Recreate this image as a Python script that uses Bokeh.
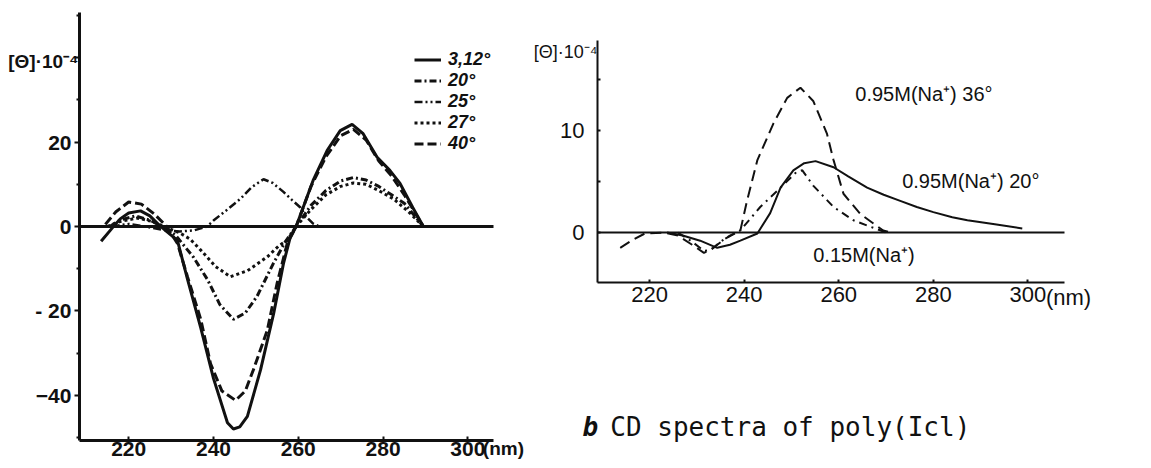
from bokeh.plotting import figure
from bokeh.models import FixedTicker, Label, Legend, LegendItem, LinearAxis
from bokeh.layouts import row
from bokeh.embed import file_html
from bokeh.resources import INLINE

# ---- panel a: temperature series, [theta]*10^-4 vs wavelength (nm) ----
wl_312 = [213.5, 216, 218, 220, 222.8, 225, 227, 229, 231.5, 233.9, 237, 240, 243.3, 244.7,
          246.2, 248, 251.1, 254.2, 256.5, 258.1, 259.5, 263.5, 266.8, 269.9, 272.7, 275.3,
          278.6, 281.6, 284, 287, 289.5]
cd_312 = [-3.5, -0.5, 1.8, 3.2, 3.7, 2.5, 0.5, -1.2, -3.3, -12.6, -24, -36, -46.5, -48,
          -47.5, -45, -34, -20.6, -8.8, -2.6, 0, 10.9, 18, 22.7, 24.2, 22, 16.4, 13.3, 10.2, 4.5, 0]

wl_20 = [215.5, 218, 221.5, 225, 228, 231, 235.3, 238.6, 241.5, 244.7, 247.5, 250.3, 254.1,
         257, 259.5, 263, 266.5, 270, 273, 276, 279, 282, 285, 289.5]
cd_20 = [0, 1.5, 2.5, 1.5, 0, -2, -7.3, -12.6, -18.5, -22, -20.5, -16.5, -8.8,
         -3.5, 0, 5, 8.5, 10.8, 11.6, 11, 9.5, 7.5, 5.5, 0]

wl_25 = [216, 220, 224, 228, 232, 235.5, 238.5, 240, 243, 246.4, 249, 251.8, 254, 256.5,
         258.5, 260.5, 262, 263.5, 265]
cd_25 = [0, 0.6, 0, -0.8, -1.2, -0.9, 0, 1.4, 3.8, 6.6, 9.3, 11.2, 10.3, 8.2,
         6.3, 4.5, 2.2, 0.7, 0]

wl_27 = [215, 218, 222, 225.5, 229, 232, 234.5, 237, 240.5, 244, 248, 252.7, 255.5, 257.4,
         259.5, 263, 266.5, 270, 273, 276, 279, 282.5, 286, 289.5]
cd_27 = [0, 1.2, 2, 1.2, -0.3, -1.5, -3, -5.6, -9.5, -11.9, -10.5, -7.2, -4.5, -3.3,
         0, 4, 7.5, 9.5, 10.3, 10, 8.5, 6.5, 3.5, 0]

wl_40 = [214.5, 217, 220, 223, 226, 229, 231.5, 233.9, 237, 239.3, 242, 245.2, 247.5, 249.4,
         252.7, 255, 257.4, 259.5, 263, 266.5, 270, 273, 276, 279, 282, 285, 289.5]
cd_40 = [0.5, 3.5, 5.8, 5.3, 3, 0, -4, -12, -22, -32.5, -39, -41.2, -39, -34,
         -24.6, -13.5, -4, 0, 9.5, 16.5, 21.5, 23, 20.5, 15.5, 12, 7.5, 0]

temp_labels = ["3,12°", "20°", "25°", "27°", "40°"]
a_xticks = [220, 240, 260, 280, 300]
a_yticks = [-40, -20, 0, 20, 40]
a_xlim = (208.4, 306)
a_ylim = (-50.7, 50.7)

# ---- panel b: poly(Ic) at two salt concentrations ----
wl_b36 = [213.8, 216.5, 219, 223, 226, 229, 231.5, 233.5, 236, 239.2, 240.6, 242.8, 246.2,
          249.1, 251.9, 254.6, 257.5, 258.9, 261, 264.6, 269.4, 271]
cd_b36 = [-1.5, -0.7, -0.1, 0, -0.3, -1.2, -2, -1.5, -0.6, 0.2, 3.1, 7.1, 10.7,
          13.2, 14.2, 12.9, 9.7, 7.1, 3.8, 1.8, 0.2, 0]

wl_b20 = [223.7, 227, 230.7, 234.3, 237, 239.2, 242.8, 245.5, 247.7, 250.4, 252.7, 255.1,
          258.9, 262, 266, 269.5, 273, 276.5, 280, 284, 287.2, 293, 298.8]
cd_b20 = [0, -0.3, -0.8, -1.5, -1.2, -0.8, -0.1, 1.9, 4.4, 6.1, 6.8, 7.0,
          6.4, 5.5, 4.4, 3.7, 3.1, 2.5, 2, 1.5, 1.2, 0.8, 0.4]

wl_b15 = [226, 229, 231.5, 233, 235, 237, 239.2, 243.4, 247.7, 251, 252.3, 254.6, 258.9,
          263.1, 266.5, 270]
cd_b15 = [0, -0.9, -1.8, -1.7, -0.9, -0.3, 0.2, 2.5, 4.4, 5.9, 6.1, 4.6, 2.5,
          1.2, 0.6, 0]

b_xticks = [220, 240, 260, 280, 300]
b_yticks = [0, 5, 10, 15]
b_xlim = (209, 307.8)
b_ylim = (-4.9, 18.8)

INK = "#111111"


def base_fig(**kw):
    # frame fills the whole canvas; axes are pinned inside it with fixed_location
    p = figure(output_backend="svg", toolbar_location=None, min_border=0,
               min_border_left=0, min_border_right=0, min_border_top=0, min_border_bottom=0, **kw)
    p.grid.visible = False
    p.outline_line_color = None
    p.background_fill_color = "white"
    p.border_fill_color = "white"
    return p


def zero_line(p, xlim, width):
    ax = LinearAxis(fixed_location=0, bounds=xlim, ticker=FixedTicker(ticks=[], minor_ticks=[]),
                    axis_line_width=width, axis_line_color=INK,
                    major_tick_line_color=None, minor_tick_line_color=None,
                    major_label_text_font_size="0px")
    p.add_layout(ax, "below")


# ================= panel a =================
pa = base_fig(width=528, height=468, x_range=(189.77, 314.3), y_range=(-57.35, 53.55))

xa = pa.xaxis[0]
ya = pa.yaxis[0]
xa.fixed_location = a_ylim[0]
xa.bounds = a_xlim
ya.fixed_location = a_xlim[0]
ya.bounds = a_ylim

for ax in (xa, ya):
    ax.axis_line_width = 3
    ax.axis_line_color = INK
    ax.major_tick_line_width = 2
    ax.major_tick_line_color = INK
    ax.minor_tick_line_color = INK
    ax.minor_tick_line_width = 2
    ax.major_label_text_font = "Liberation Sans"
    ax.major_label_text_font_style = "bold"
    ax.major_label_text_font_size = "21px"
    ax.major_label_text_color = INK

xa.ticker = FixedTicker(ticks=a_xticks, minor_ticks=[])
xa.major_tick_in = 4
xa.major_tick_out = 0
xa.major_label_standoff = 2

ya.ticker = FixedTicker(ticks=a_yticks, minor_ticks=[-50, -30, -10, 10, 30, 50])
ya.major_tick_in = 0
ya.major_tick_out = 5
ya.minor_tick_in = 0
ya.minor_tick_out = 3
ya.major_label_standoff = 3
ya.major_label_overrides = {40: "", -20: "- 20"}

zero_line(pa, a_xlim, 3)

ra = []
ra.append(pa.line(wl_312, cd_312, line_color=INK, line_width=3))
ra.append(pa.line(wl_20, cd_20, line_color=INK, line_width=3, line_dash="7 3 2 3"))
ra.append(pa.line(wl_25, cd_25, line_color=INK, line_width=2.5, line_dash="8 3 2 3 2 3"))
ra.append(pa.line(wl_27, cd_27, line_color=INK, line_width=3, line_dash="3 3"))
ra.append(pa.line(wl_40, cd_40, line_color=INK, line_width=3, line_dash="9 4"))

leg = Legend(items=[LegendItem(label=t, renderers=[r]) for t, r in zip(temp_labels, ra)],
             location=(414, 314))
leg.border_line_color = None
leg.background_fill_alpha = 0
leg.padding = 0
leg.margin = 0
leg.spacing = -2
leg.label_height = 21
leg.glyph_height = 21
leg.glyph_width = 27
leg.label_standoff = 7
leg.label_text_font = "Liberation Sans"
leg.label_text_font_size = "18px"
leg.label_text_font_style = "bold italic"
leg.label_text_color = INK
pa.add_layout(leg)

pa.add_layout(Label(x=a_xlim[0], y=39, text="[Θ]·10⁻⁴", text_align="right", text_baseline="middle",
                    x_offset=-1, text_font="Liberation Sans", text_font_style="bold",
                    text_font_size="19px", text_color=INK))
pa.add_layout(Label(x=300, y=a_ylim[0], text="(nm)", text_align="left", text_baseline="top",
                    x_offset=15, y_offset=2, text_font="Liberation Sans", text_font_style="bold",
                    text_font_size="19px", text_color=INK))

# ================= panel b =================
pb = base_fig(width=623, height=468, x_range=(194.41, 326.12), y_range=(-23.14, 22.75))

xb = pb.xaxis[0]
yb = pb.yaxis[0]
xb.fixed_location = b_ylim[0]
xb.bounds = b_xlim
yb.fixed_location = b_xlim[0]
yb.bounds = b_ylim

for ax in (xb, yb):
    ax.axis_line_width = 2
    ax.axis_line_color = INK
    ax.major_tick_line_width = 2
    ax.major_tick_line_color = INK
    ax.major_label_text_font = "Liberation Sans"
    ax.major_label_text_font_size = "22px"
    ax.major_label_text_color = INK

xb.ticker = FixedTicker(ticks=b_xticks, minor_ticks=[])
xb.major_tick_in = 3
xb.major_tick_out = 0
xb.major_label_standoff = 5

yb.ticker = FixedTicker(ticks=b_yticks, minor_ticks=[])
yb.major_tick_in = 3
yb.major_tick_out = 0
yb.major_label_standoff = 13
yb.major_label_overrides = {5: "", 15: ""}

zero_line(pb, b_xlim, 2)

pb.line(wl_b36, cd_b36, line_color=INK, line_width=2, line_dash="11 6")
pb.line(wl_b20, cd_b20, line_color=INK, line_width=2)
pb.line(wl_b15, cd_b15, line_color=INK, line_width=2, line_dash="8 5 2 5")

lab = dict(text_font="Liberation Sans", text_font_size="20px", text_color=INK,
           text_baseline="middle")
pb.add_layout(Label(x=263.5, y=13.6, text="0.95M(Na⁺) 36°", **lab))
pb.add_layout(Label(x=273.4, y=5.1, text="0.95M(Na⁺) 20°", **lab))
pb.add_layout(Label(x=254.6, y=-2.25, text="0.15M(Na⁺)", **lab))
pb.add_layout(Label(x=b_xlim[0], y=17.7, text="[Θ]·10⁻⁴", text_align="right", text_baseline="middle",
                    x_offset=0, text_font="Liberation Sans", text_font_size="18px", text_color=INK))
pb.add_layout(Label(x=300, y=b_ylim[0], text="(nm)", text_align="left", text_baseline="top",
                    x_offset=18, y_offset=-3, text_font="Liberation Sans", text_font_size="22px",
                    text_color=INK))

# figure caption
pb.add_layout(Label(x=205.8, y=-19.1, text="b", text_baseline="middle",
                    text_font="DejaVu Sans Mono", text_font_style="bold italic",
                    text_font_size="26px", text_color=INK))
pb.add_layout(Label(x=211.7, y=-19.1, text="CD spectra of poly(Icl)", text_baseline="middle",
                    text_font="DejaVu Sans Mono", text_font_size="26px", text_color=INK))

layout = row(pa, pb)
open("out.html", "w").write(file_html(layout, INLINE))
